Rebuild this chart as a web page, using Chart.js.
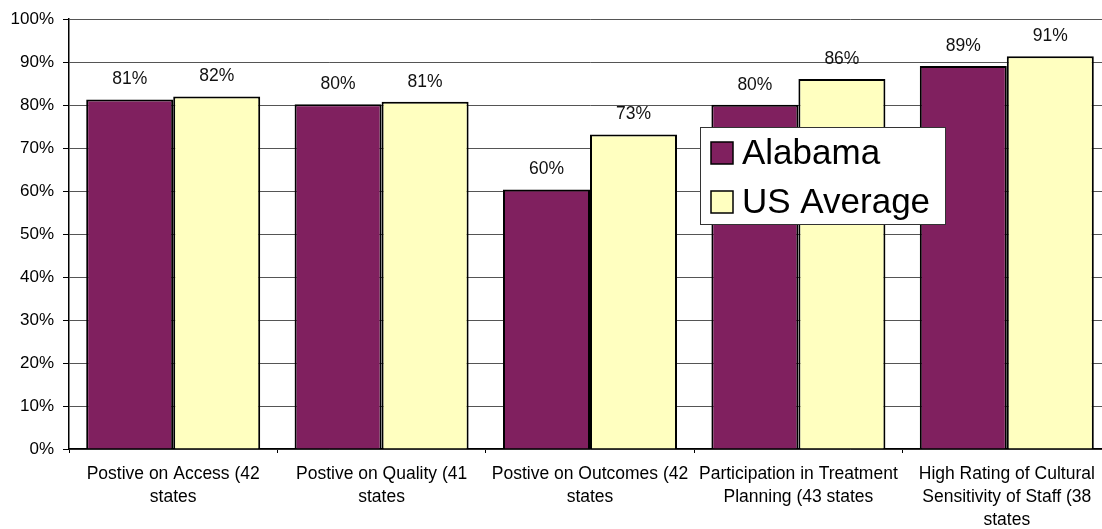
<!DOCTYPE html>
<html>
<head>
<meta charset="utf-8">
<script src="https://cdn.jsdelivr.net/npm/chart.js@4/dist/chart.umd.min.js"></script>
<style>
  body { margin: 0; background: #fff; overflow: hidden; }
</style>
</head>
<body>
<canvas id="surveyChart" width="1112" height="529"></canvas>
<script>
// chart data
var categories = [
    ['Postive on Access (42', 'states'],
    ['Postive on Quality (41', 'states'],
    ['Postive on Outcomes (42', 'states'],
    ['Participation in Treatment', 'Planning (43 states'],
    ['High Rating of Cultural', 'Sensitivity of Staff (38', 'states']
];
var alabama = [81.3, 80.2, 60.4, 80.1, 89.1];
var usAverage = [82.0, 80.8, 73.2, 86.1, 91.4];
var seriesNames = ['Alabama', 'US Average'];
var yTicks = [0, 10, 20, 30, 40, 50, 60, 70, 80, 90, 100];

var colors = ['#80205F', '#FFFFC0'];
var fontFamily = '"Liberation Sans", Arial, sans-serif';

// value labels above the bars
var barLabels = {
    id: 'barLabels',
    afterDatasetsDraw: function (chart) {
        var ctx = chart.ctx;
        ctx.save();
        ctx.font = '17.5px ' + fontFamily;
        ctx.fillStyle = '#111';
        ctx.textAlign = 'center';
        ctx.textBaseline = 'middle';
        chart.data.datasets.forEach(function (ds, i) {
            chart.getDatasetMeta(i).data.forEach(function (bar, j) {
                ctx.fillText(Math.round(ds.data[j]) + '%', bar.x, bar.y - 20);
            });
        });
        ctx.restore();
    }
};

// legend box drawn over the plot
var boxLegend = {
    id: 'boxLegend',
    afterDraw: function (chart) {
        var ctx = chart.ctx;
        var x = 700, y = 127, w = 245, h = 97;
        ctx.save();
        ctx.fillStyle = '#fff';
        ctx.fillRect(x, y, w, h);
        ctx.strokeStyle = '#333';
        ctx.lineWidth = 1;
        ctx.strokeRect(x + 0.5, y + 0.5, w, h);
        ctx.font = '35px ' + fontFamily;
        ctx.textBaseline = 'middle';
        chart.data.datasets.forEach(function (ds, i) {
            var cy = y + 26 + i * 49;
            ctx.fillStyle = ds.backgroundColor;
            ctx.fillRect(x + 11, cy - 11, 22, 22);
            ctx.strokeStyle = '#000';
            ctx.lineWidth = 1.5;
            ctx.strokeRect(x + 11, cy - 11, 22, 22);
            ctx.fillStyle = '#000';
            ctx.fillText(ds.label, x + 42, cy + 1);
        });
        ctx.restore();
    }
};

var ctx = document.getElementById('surveyChart').getContext('2d');
var surveyChart = new Chart(ctx, {
    type: 'bar',
    data: {
        labels: categories,
        datasets: [{
            label: seriesNames[0],
            data: alabama,
            backgroundColor: colors[0],
            borderColor: '#000',
            borderWidth: 2
        }, {
            label: seriesNames[1],
            data: usAverage,
            backgroundColor: colors[1],
            borderColor: '#000',
            borderWidth: 2
        }]
    },
    options: {
        responsive: false,
        animation: false,
        devicePixelRatio: 1,
        layout: { padding: { top: 19, right: 1, left: 0, bottom: 0 } },
        datasets: {
            bar: { categoryPercentage: 0.835, barPercentage: 1 }
        },
        plugins: {
            legend: { display: false },
            tooltip: { enabled: false }
        },
        scales: {
            x: {
                grid: {
                    offset: true,
                    drawOnChartArea: false,
                    color: '#000',
                    tickLength: 4
                },
                border: { color: '#000', width: 1.5 },
                ticks: {
                    color: '#000',
                    maxRotation: 0,
                    autoSkip: false,
                    padding: 10,
                    font: { size: 17.5, family: fontFamily, lineHeight: 1.3 }
                },
                afterFit: function (scale) { scale.height = 80; }
            },
            y: {
                min: 0,
                max: 100,
                afterBuildTicks: function (scale) {
                    scale.ticks = yTicks.map(function (v) { return { value: v }; });
                },
                grid: {
                    color: '#555',
                    lineWidth: 1,
                    tickLength: 6,
                    tickColor: '#000'
                },
                border: { color: '#000', width: 1.5 },
                ticks: {
                    color: '#000',
                    padding: 9,
                    font: { size: 17, family: fontFamily },
                    callback: function (value) { return value + '%'; }
                },
                afterFit: function (scale) { scale.width = 69; }
            }
        }
    },
    plugins: [barLabels, boxLegend]
});
</script>
</body>
</html>
